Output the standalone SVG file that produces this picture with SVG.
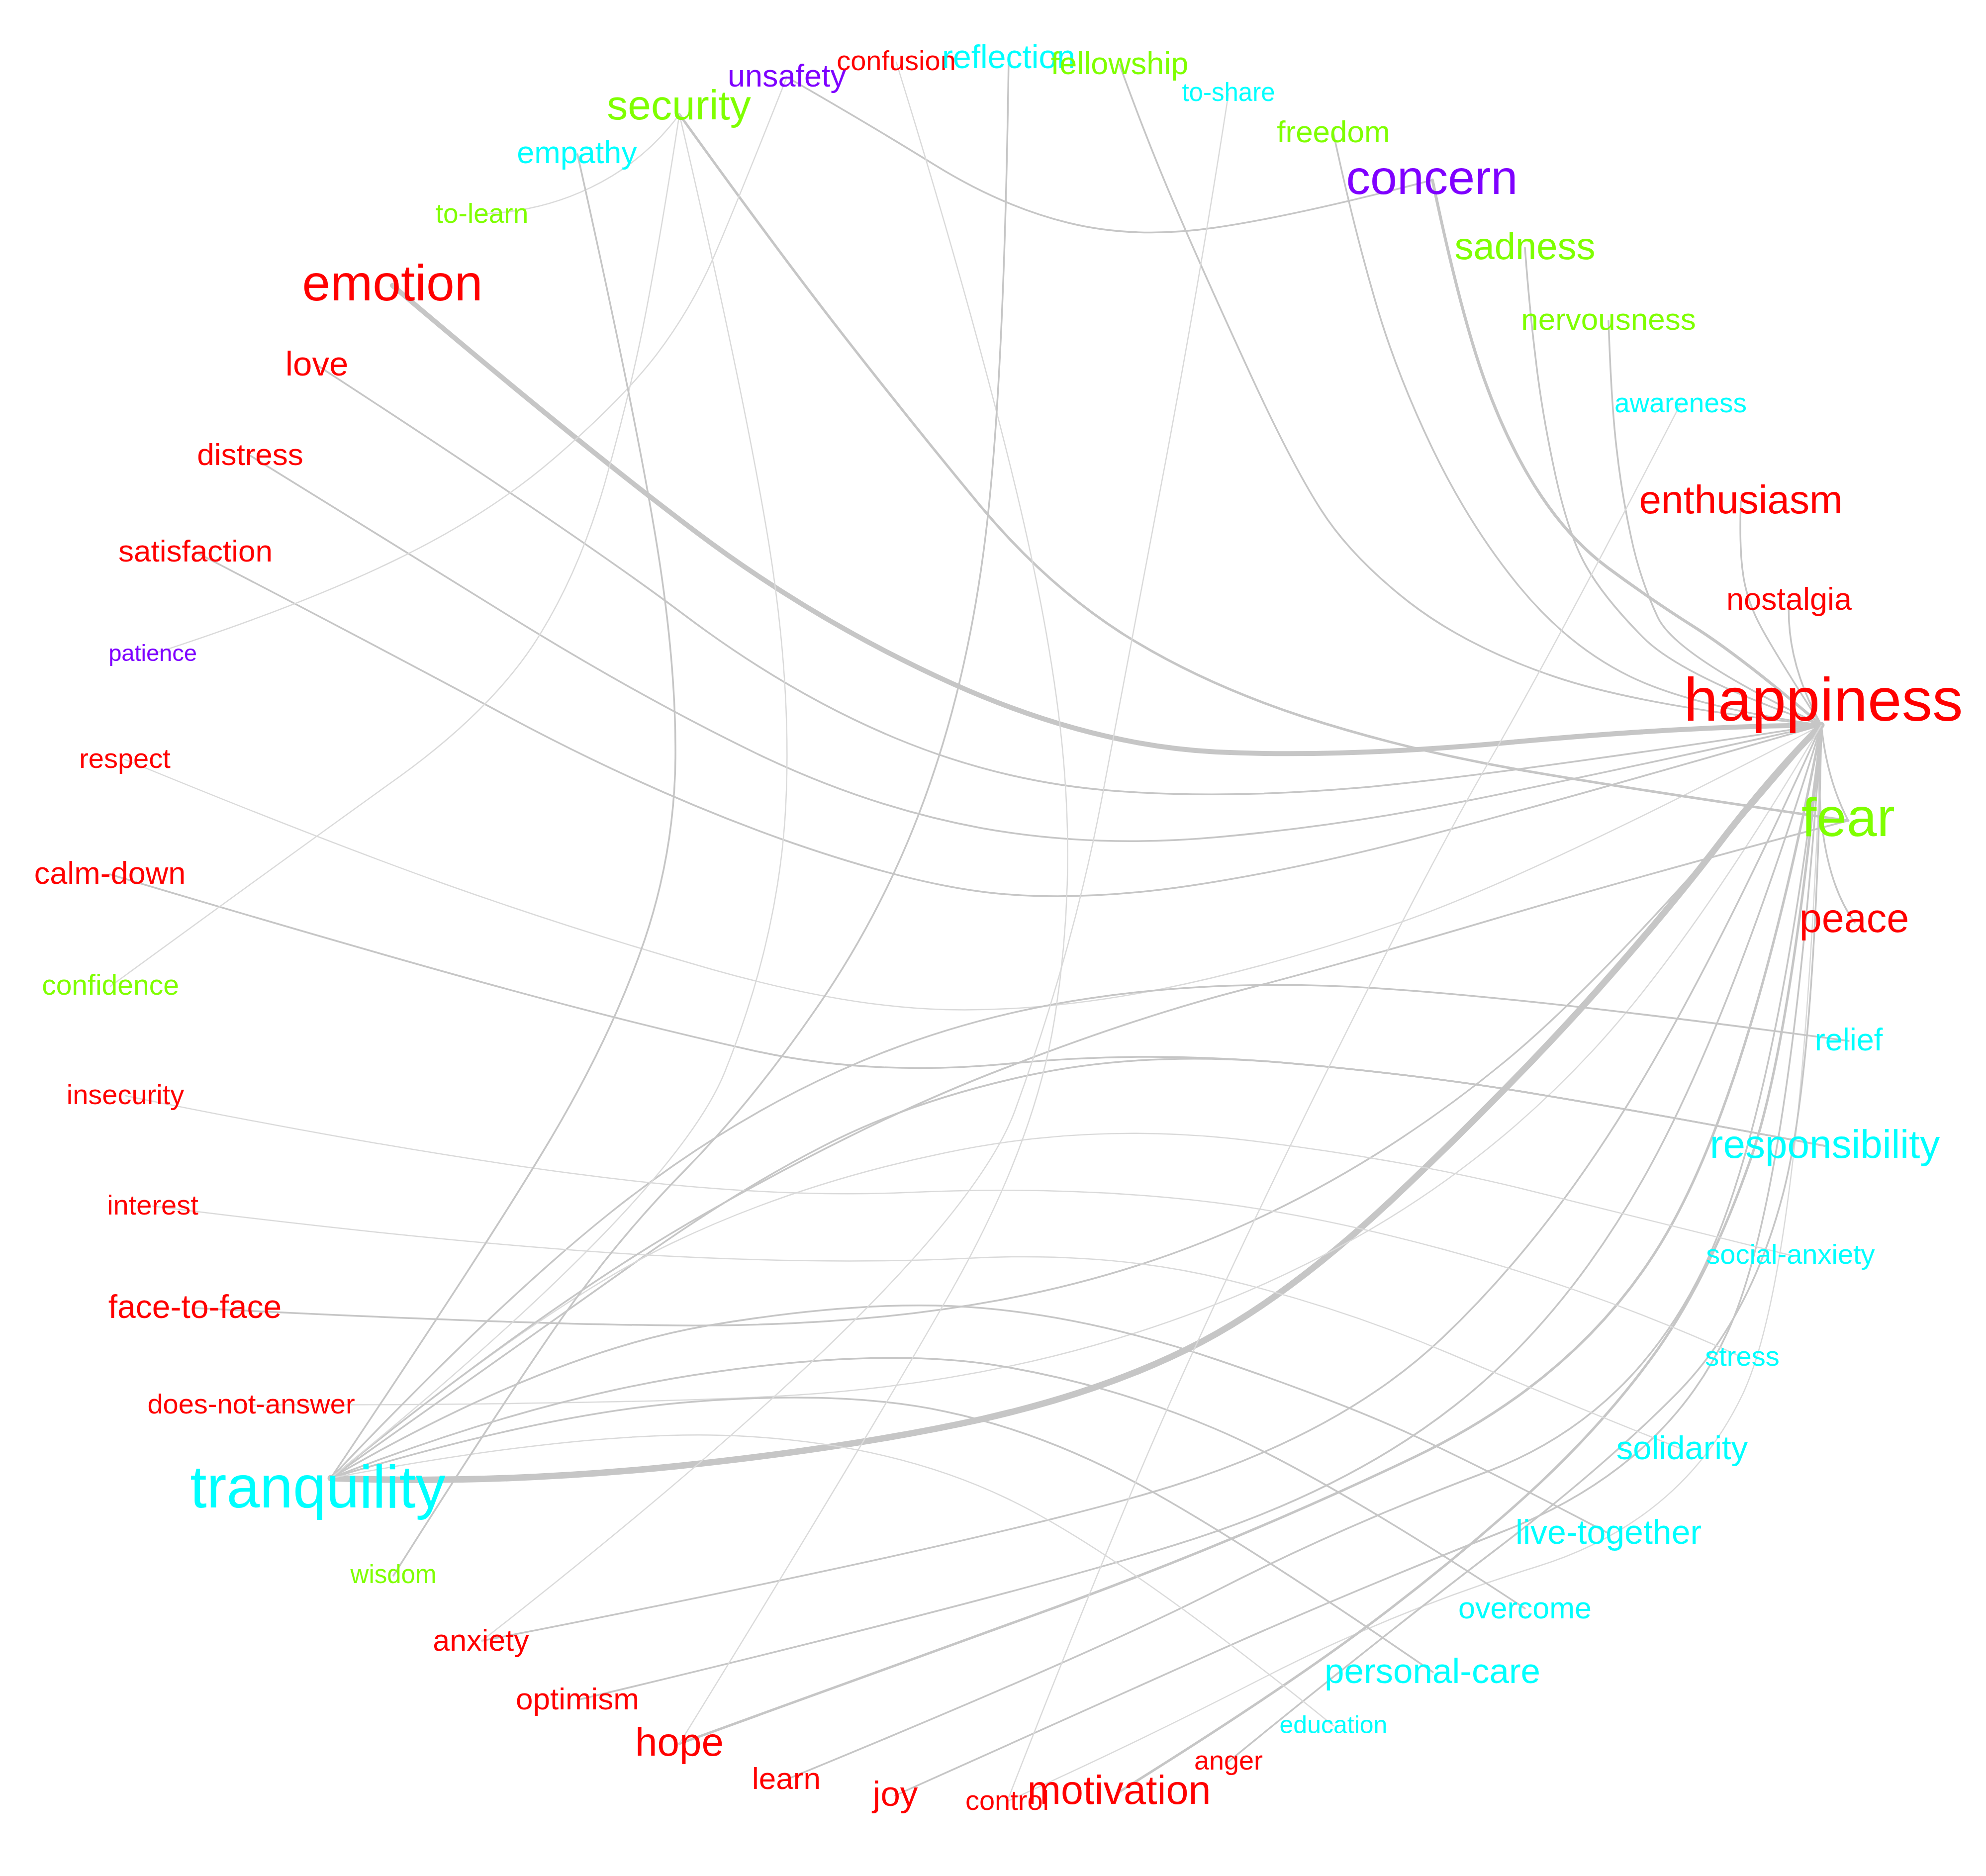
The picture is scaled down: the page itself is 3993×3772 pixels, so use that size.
<svg xmlns="http://www.w3.org/2000/svg" width="3993" height="3772" viewBox="0 0 3993 3772">
<style>
.e{fill:none;stroke:#c6c6c6;stroke-linecap:round;stroke-linejoin:round}
.m{stroke-width:3.5}
.l{stroke:#dadada;stroke-width:2.5}
.t{font-family:"Liberation Sans",Arial,sans-serif;text-anchor:middle}
.r{fill:#ff0000}.g{fill:#7fff00}.c{fill:#00ffff}.p{fill:#7f00ff}
</style>
<rect width="3993" height="3772" fill="#ffffff"/>
<g id="edges">
<path class="e" stroke-width="10" d="M789,574 Q1161,890 1400,1070 Q1639,1250 1916,1375 Q2193,1499 2446,1512 Q2700,1524 3043,1492 Q3386,1460 3662,1458"/>
<path class="e m" d="M637,734 Q1161,1075 1374,1235 Q1586,1395 1800,1484 Q2014,1573 2238,1590 Q2461,1607 2731,1584 Q3000,1560 3662,1458"/>
<path class="e m" d="M503,916 Q804,1103 1052,1256 Q1300,1408 1523,1516 Q1746,1623 1973,1665 Q2200,1706 2450,1683 Q2700,1660 2950,1610 Q3200,1560 3662,1458"/>
<path class="e m" d="M393,1110 Q741,1290 1020,1440 Q1300,1590 1568,1686 Q1836,1781 2010,1797 Q2183,1812 2392,1781 Q2600,1750 2850,1685 Q3100,1620 3662,1458"/>
<path class="e l" d="M251,1527 Q625,1681 893,1777 Q1161,1872 1431,1949 Q1700,2025 1900,2030 Q2100,2035 2333,1989 Q2565,1942 2820,1853 Q3075,1764 3662,1458"/>
<path class="e" stroke-width="6" d="M2880,362 Q2930,600 2975,736 Q3020,871 3085,976 Q3150,1080 3232,1141 Q3314,1202 3407,1261 Q3500,1320 3662,1458"/>
<path class="e m" d="M2681,268 Q2720,450 2763,598 Q2805,746 2881,904 Q2957,1061 3056,1181 Q3154,1300 3277,1360 Q3400,1420 3662,1458"/>
<path class="e m" d="M2251,130 Q2309,290 2363,415 Q2416,539 2506,735 Q2595,930 2656,1025 Q2716,1119 2832,1210 Q2948,1300 3124,1360 Q3300,1420 3662,1458"/>
<path class="e m" d="M3066,498 Q3075,620 3088,725 Q3100,829 3127,954 Q3154,1078 3190,1140 Q3225,1202 3303,1281 Q3380,1360 3662,1458"/>
<path class="e m" d="M3234,645 Q3240,820 3251,908 Q3261,995 3279,1078 Q3296,1161 3333,1241 Q3370,1320 3662,1458"/>
<path class="e m" d="M3500,1008 Q3497,1100 3504,1150 Q3510,1200 3535,1250 Q3560,1300 3662,1458"/>
<path class="e m" d="M3597,1207 Q3590,1330 3662,1458"/>
<path class="e" stroke-width="13" d="M665,2972 Q1000,2985 1360,2948 Q1720,2910 1976,2853 Q2231,2795 2416,2698 Q2600,2600 2806,2405 Q3012,2210 3172,2035 Q3331,1859 3446,1710 Q3560,1560 3662,1458"/>
<path class="e m" d="M3662,1458 Q3440,1950 3270,2225 Q3100,2500 2900,2690 Q2700,2880 2357,2988 Q2014,3095 969,3299"/>
<path class="e m" d="M3662,1458 Q3480,2050 3315,2350 Q3150,2650 2925,2826 Q2700,3003 2357,3108 Q2014,3214 1161,3418"/>
<path class="e" stroke-width="5" d="M3662,1458 Q3530,2150 3365,2455 Q3200,2760 2843,2930 Q2486,3101 2072,3250 Q1657,3400 1366,3506"/>
<path class="e m" d="M3662,1458 Q3570,2250 3425,2550 Q3280,2850 2990,2959 Q2700,3068 2446,3198 Q2193,3327 1581,3578"/>
<path class="e m" d="M3662,1458 Q3600,2400 3475,2675 Q3350,2950 3025,3078 Q2700,3206 2402,3340 Q2104,3473 1800,3610"/>
<path class="e l" d="M3662,1458 Q3625,2550 3503,2805 Q3380,3060 3090,3150 Q2800,3240 2541,3373 Q2282,3506 2025,3622"/>
<path class="e" stroke-width="5" d="M3662,1458 Q3600,2100 3520,2330 Q3440,2560 3333,2713 Q3225,2865 3069,3007 Q2912,3149 2731,3283 Q2550,3416 2250,3603"/>
<path class="e m" d="M3662,1458 Q3650,2150 3585,2400 Q3520,2650 3373,2800 Q3225,2950 3002,3120 Q2779,3290 2470,3542"/>
<path class="e m" d="M3662,1458 C3650,1600 3660,1760 3729,1855"/>
<path class="e m" d="M3662,1458 C3670,1540 3690,1600 3716,1650"/>
<path class="e m" d="M392,2630 Q1000,2662 1360,2665 Q1720,2668 2010,2614 Q2300,2560 2550,2440 Q2800,2320 3025,2135 Q3250,1950 3662,1458"/>
<path class="e l" d="M505,2825 Q1200,2825 1550,2808 Q1900,2790 2200,2705 Q2500,2620 2750,2475 Q3000,2330 3200,2115 Q3400,1900 3662,1458"/>
<path class="e m" d="M665,2972 Q1000,2620 1225,2440 Q1450,2260 1688,2153 Q1925,2046 2193,2007 Q2461,1967 2768,1987 Q3075,2006 3717,2093"/>
<path class="e m" d="M665,2972 Q1050,2700 1265,2547 Q1479,2394 1658,2303 Q1836,2212 2068,2162 Q2300,2112 2584,2137 Q2868,2162 3091,2200 Q3314,2237 3669,2304"/>
<path class="e m" d="M221,1758 Q714,1905 995,1982 Q1276,2059 1513,2112 Q1750,2165 2025,2139 Q2300,2112 2584,2137 Q2868,2162 3091,2200 Q3314,2237 3669,2304"/>
<path class="e l" d="M665,2972 Q1100,2620 1350,2500 Q1600,2380 1900,2318 Q2200,2255 2510,2293 Q2820,2331 3060,2390 Q3300,2450 3600,2524"/>
<path class="e l" d="M252,2203 Q765,2308 1148,2359 Q1531,2410 1816,2398 Q2100,2385 2350,2408 Q2600,2430 2902,2512 Q3203,2593 3503,2729"/>
<path class="e l" d="M307,2425 Q893,2499 1276,2522 Q1658,2544 1945,2530 Q2231,2515 2466,2573 Q2700,2630 2918,2723 Q3136,2816 3382,2914"/>
<path class="e m" d="M665,2972 Q1100,2720 1425,2665 Q1750,2610 1975,2630 Q2200,2650 2450,2735 Q2700,2820 2850,2890 Q3000,2960 3234,3083"/>
<path class="e m" d="M665,2972 Q1083,2808 1434,2759 Q1784,2709 2008,2746 Q2231,2783 2441,2872 Q2650,2960 3066,3234"/>
<path class="e m" d="M665,2972 Q1100,2840 1400,2818 Q1700,2795 1900,2838 Q2100,2880 2300,2990 Q2500,3100 2881,3362"/>
<path class="e l" d="M665,2972 Q1200,2870 1500,2888 Q1800,2905 2025,3013 Q2250,3120 2681,3470"/>
<path class="e m" d="M665,2972 Q1100,2620 1423,2437 Q1746,2253 2014,2150 Q2282,2046 2491,1992 Q2700,1938 3000,1849 Q3300,1760 3716,1650"/>
<path class="e" stroke-width="5" d="M1366,230 Q1560,500 1698,677 Q1836,854 1970,1016 Q2104,1177 2260,1276 Q2416,1374 2620,1441 Q2823,1507 3062,1549 Q3300,1590 3716,1650"/>
<path class="e l" d="M969,430 C1120,425 1270,360 1366,230"/>
<path class="e l" d="M222,1983 Q625,1689 804,1561 Q982,1432 1072,1297 Q1161,1161 1215,975 Q1268,788 1299,626 Q1330,464 1366,230"/>
<path class="e l" d="M1582,155 Q1479,415 1434,519 Q1389,622 1320,713 Q1250,804 1116,920 Q982,1036 791,1128 Q600,1220 307,1315"/>
<path class="e m" d="M1582,155 Q1746,249 1880,332 Q2014,415 2148,448 Q2282,481 2441,458 Q2600,435 2880,362"/>
<path class="e m" d="M1161,310 Q1268,788 1312,1044 Q1357,1300 1358,1500 Q1360,1700 1296,1890 Q1232,2079 1107,2290 Q982,2500 665,2972"/>
<path class="e l" d="M1366,230 Q1496,788 1546,1094 Q1595,1400 1578,1650 Q1560,1900 1457,2156 Q1354,2411 665,2972"/>
<path class="e l" d="M1802,125 Q1943,580 2032,940 Q2121,1300 2140,1550 Q2160,1800 2120,2050 Q2080,2300 1913,2595 Q1746,2889 1366,3506"/>
<path class="e l" d="M2470,188 Q2416,539 2345,920 Q2273,1300 2215,1607 Q2157,1913 2041,2232 Q1925,2550 969,3299"/>
<path class="e m" d="M2028,117 Q2020,700 1990,1000 Q1961,1300 1880,1545 Q1800,1789 1662,1997 Q1523,2204 1378,2352 Q1232,2500 1107,2683 Q982,2865 791,3168"/>
<path class="e l" d="M3379,812 Q3127,1300 2998,1524 Q2868,1747 2634,2222 Q2400,2700 2275,3000 Q2150,3300 2025,3622"/>
</g>
<g id="nodes">
<g id="n-security"><text class="t g" x="1365" y="240" font-size="84">security</text></g>
<g id="n-unsafety"><text class="t p" x="1582" y="174" font-size="63">unsafety</text></g>
<g id="n-confusion"><text class="t r" x="1802" y="141" font-size="56">confusion</text></g>
<g id="n-reflection"><text class="t c" x="2028" y="137" font-size="66">reflection</text></g>
<g id="n-fellowship"><text class="t g" x="2251" y="149" font-size="63">fellowship</text></g>
<g id="n-to-share"><text class="t c" x="2470" y="203" font-size="51">to-share</text></g>
<g id="n-freedom"><text class="t g" x="2681" y="286" font-size="62">freedom</text></g>
<g id="n-concern"><text class="t p" x="2879" y="390" font-size="97">concern</text></g>
<g id="n-sadness"><text class="t g" x="3066" y="521" font-size="76">sadness</text></g>
<g id="n-nervousness"><text class="t g" x="3234" y="663" font-size="62">nervousness</text></g>
<g id="n-awareness"><text class="t c" x="3379" y="829" font-size="55">awareness</text></g>
<g id="n-enthusiasm"><text class="t r" x="3500" y="1032" font-size="80">enthusiasm</text></g>
<g id="n-nostalgia"><text class="t r" x="3597" y="1226" font-size="63">nostalgia</text></g>
<g id="n-happiness"><text class="t r" x="3666" y="1449" font-size="123">happiness</text></g>
<g id="n-fear"><text class="t g" x="3716" y="1681" font-size="109">fear</text></g>
<g id="n-peace"><text class="t r" x="3728" y="1874" font-size="81">peace</text></g>
<g id="n-relief"><text class="t c" x="3717" y="2112" font-size="63">relief</text></g>
<g id="n-responsibility"><text class="t c" x="3669" y="2328" font-size="80">responsibility</text></g>
<g id="n-social-anxiety"><text class="t c" x="3600" y="2541" font-size="56">social-anxiety</text></g>
<g id="n-stress"><text class="t c" x="3503" y="2746" font-size="56">stress</text></g>
<g id="n-solidarity"><text class="t c" x="3382" y="2934" font-size="67">solidarity</text></g>
<g id="n-live-together"><text class="t c" x="3234" y="3104" font-size="68">live-together</text></g>
<g id="n-overcome"><text class="t c" x="3066" y="3254" font-size="61">overcome</text></g>
<g id="n-personal-care"><text class="t c" x="2880" y="3384" font-size="71">personal-care</text></g>
<g id="n-education"><text class="t c" x="2681" y="3485" font-size="50">education</text></g>
<g id="n-anger"><text class="t r" x="2470" y="3558" font-size="54">anger</text></g>
<g id="n-motivation"><text class="t r" x="2250" y="3627" font-size="81">motivation</text></g>
<g id="n-control"><text class="t r" x="2025" y="3639" font-size="56">control</text></g>
<g id="n-joy"><text class="t r" x="1800" y="3631" font-size="71">joy</text></g>
<g id="n-learn"><text class="t r" x="1581" y="3597" font-size="62">learn</text></g>
<g id="n-hope"><text class="t r" x="1366" y="3530" font-size="80">hope</text></g>
<g id="n-optimism"><text class="t r" x="1161" y="3437" font-size="62">optimism</text></g>
<g id="n-anxiety"><text class="t r" x="967" y="3319" font-size="61">anxiety</text></g>
<g id="n-wisdom"><text class="t g" x="791" y="3183" font-size="51">wisdom</text></g>
<g id="n-tranquility"><text class="t c" x="639" y="3031" font-size="120">tranquility</text></g>
<g id="n-does-not-answer"><text class="t r" x="505" y="2842" font-size="56">does-not-answer</text></g>
<g id="n-face-to-face"><text class="t r" x="392" y="2650" font-size="66">face-to-face</text></g>
<g id="n-interest"><text class="t r" x="307" y="2442" font-size="56">interest</text></g>
<g id="n-insecurity"><text class="t r" x="252" y="2220" font-size="56">insecurity</text></g>
<g id="n-confidence"><text class="t g" x="222" y="2000" font-size="57">confidence</text></g>
<g id="n-calm-down"><text class="t r" x="221" y="1777" font-size="63">calm-down</text></g>
<g id="n-respect"><text class="t r" x="251" y="1544" font-size="56">respect</text></g>
<g id="n-patience"><text class="t p" x="307" y="1329" font-size="47">patience</text></g>
<g id="n-satisfaction"><text class="t r" x="393" y="1129" font-size="62">satisfaction</text></g>
<g id="n-distress"><text class="t r" x="503" y="935" font-size="62">distress</text></g>
<g id="n-love"><text class="t r" x="637" y="755" font-size="69">love</text></g>
<g id="n-emotion"><text class="t r" x="789" y="604" font-size="102">emotion</text></g>
<g id="n-to-learn"><text class="t g" x="969" y="448" font-size="55">to-learn</text></g>
<g id="n-empathy"><text class="t c" x="1160" y="328" font-size="63">empathy</text></g>
</g>
</svg>
